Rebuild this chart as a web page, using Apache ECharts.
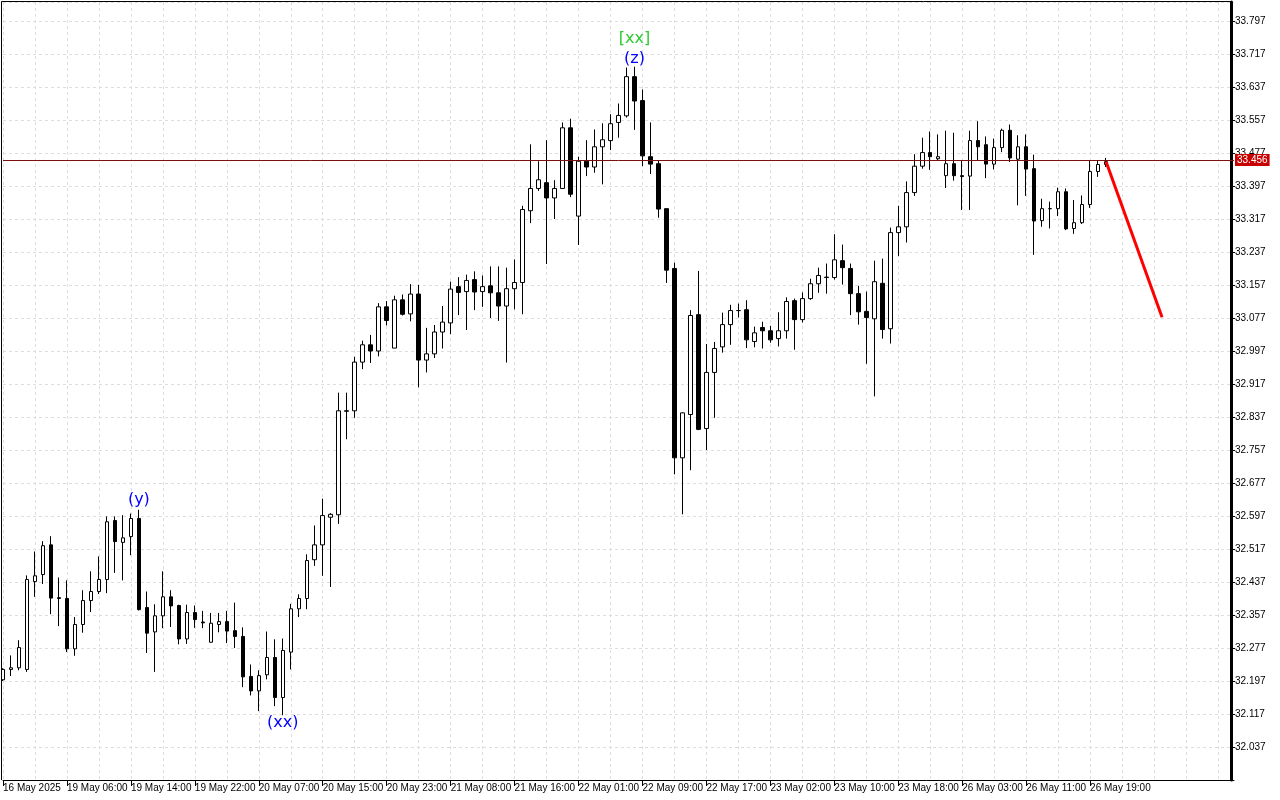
<!DOCTYPE html>
<html>
<head>
<meta charset="utf-8">
<script src="https://cdn.jsdelivr.net/npm/echarts@6/dist/echarts.min.js"></script>
<style>html,body{margin:0;padding:0;background:#fff}#c{width:1280px;height:800px}</style>
</head>
<body>
<div id="c"></div>
<script>
const tickLabels = ['16 May 2025','19 May 06:00','19 May 14:00','19 May 22:00','20 May 07:00','20 May 15:00','20 May 23:00','21 May 08:00','21 May 16:00','22 May 01:00','22 May 09:00','22 May 17:00','23 May 02:00','23 May 10:00','23 May 18:00','26 May 03:00','26 May 11:00','26 May 19:00'];
const opens = [32.200,32.225,32.229,32.225,32.438,32.455,32.527,32.399,32.397,32.275,32.334,32.392,32.414,32.443,32.586,32.533,32.547,32.591,32.375,32.316,32.355,32.401,32.380,32.299,32.363,32.340,32.291,32.334,32.341,32.319,32.305,32.208,32.173,32.212,32.254,32.157,32.267,32.372,32.397,32.491,32.527,32.594,32.600,32.852,32.852,32.970,33.012,32.997,33.104,33.004,33.121,33.087,33.135,32.975,32.990,33.043,33.065,33.153,33.141,33.170,33.141,33.155,33.138,33.106,33.148,33.163,33.337,33.391,33.405,33.368,33.391,33.538,33.324,33.457,33.443,33.492,33.507,33.551,33.567,33.662,33.604,33.468,33.451,33.342,33.197,32.738,32.843,33.085,32.809,32.945,33.007,33.061,33.095,33.097,33.020,33.054,33.046,33.027,33.046,33.119,33.073,33.124,33.160,33.176,33.175,33.216,33.197,33.136,33.093,33.075,33.161,33.051,33.284,33.298,33.381,33.445,33.478,33.463,33.422,33.451,33.422,33.421,33.507,33.497,33.450,33.490,33.532,33.462,33.492,33.439,33.313,33.342,33.342,33.383,33.294,33.308,33.352,33.432,33.449];
const closes = [32.225,32.229,32.278,32.443,32.452,32.525,32.398,32.397,32.275,32.334,32.392,32.414,32.443,32.583,32.535,32.544,32.591,32.370,32.313,32.355,32.401,32.379,32.299,32.363,32.346,32.338,32.337,32.341,32.318,32.305,32.207,32.173,32.210,32.254,32.157,32.271,32.372,32.397,32.489,32.527,32.598,32.601,32.852,32.851,32.970,33.012,32.997,33.104,33.071,33.121,33.086,33.135,32.975,32.990,33.043,33.067,33.147,33.139,33.168,33.140,33.153,33.138,33.106,33.148,33.163,33.340,33.391,33.412,33.368,33.391,33.538,33.377,33.457,33.443,33.492,33.509,33.548,33.568,33.662,33.603,33.470,33.450,33.341,33.193,32.738,32.847,33.083,32.807,32.945,33.003,33.061,33.095,33.095,33.024,33.041,33.046,33.024,33.046,33.117,33.073,33.124,33.160,33.180,33.175,33.218,33.199,33.136,33.092,33.078,33.165,33.049,33.284,33.298,33.381,33.445,33.478,33.468,33.468,33.451,33.422,33.420,33.507,33.492,33.450,33.490,33.532,33.465,33.492,33.438,33.312,33.342,33.342,33.383,33.293,33.308,33.352,33.432,33.449,33.456];
const lows = [32.197,32.209,32.223,32.219,32.401,32.432,32.359,32.330,32.267,32.258,32.314,32.364,32.408,32.410,32.459,32.441,32.502,32.368,32.265,32.219,32.325,32.328,32.286,32.287,32.326,32.325,32.290,32.315,32.289,32.277,32.182,32.162,32.124,32.201,32.136,32.114,32.225,32.352,32.371,32.476,32.452,32.425,32.578,32.783,32.835,32.953,32.968,32.984,33.059,33.004,33.083,33.069,32.909,32.945,32.980,33.003,33.038,33.084,33.048,33.096,33.104,33.077,33.070,32.969,33.098,33.086,33.307,33.385,33.208,33.317,33.391,33.370,33.254,33.421,33.429,33.401,33.484,33.514,33.563,33.533,33.445,33.426,33.320,33.162,32.698,32.601,32.708,32.805,32.757,32.835,32.993,33.012,33.078,33.004,33.006,33.003,33.017,33.008,33.027,33.000,33.066,33.121,33.138,33.136,33.170,33.158,33.084,33.061,32.966,32.887,33.027,33.015,33.227,33.260,33.373,33.439,33.436,33.458,33.392,33.410,33.339,33.339,33.458,33.416,33.437,33.479,33.455,33.350,33.373,33.230,33.298,33.294,33.324,33.290,33.281,33.305,33.344,33.419,33.443];
const highs = [32.228,32.259,32.296,32.453,32.511,32.536,32.548,32.448,32.441,32.352,32.417,32.463,32.499,32.596,32.596,32.599,32.603,32.612,32.414,32.383,32.463,32.417,32.382,32.382,32.380,32.367,32.362,32.362,32.367,32.387,32.327,32.237,32.223,32.317,32.298,32.300,32.384,32.407,32.504,32.574,32.639,32.604,32.896,32.896,32.983,33.022,33.036,33.113,33.118,33.131,33.134,33.159,33.157,33.053,33.060,33.106,33.165,33.176,33.182,33.190,33.180,33.202,33.202,33.199,33.219,33.349,33.498,33.457,33.508,33.411,33.551,33.560,33.468,33.508,33.534,33.549,33.571,33.597,33.684,33.686,33.631,33.551,33.458,33.342,33.211,32.848,33.096,33.191,33.014,33.019,33.090,33.109,33.112,33.120,33.056,33.068,33.058,33.091,33.127,33.124,33.139,33.172,33.199,33.209,33.280,33.255,33.209,33.155,33.141,33.216,33.221,33.296,33.349,33.408,33.474,33.514,33.529,33.522,33.531,33.526,33.458,33.531,33.554,33.517,33.512,33.536,33.546,33.520,33.522,33.473,33.366,33.359,33.393,33.391,33.363,33.374,33.458,33.458,33.465];
const lastPrice = 33.456;
const forecastIdx = [138, 145];
const forecastVal = [33.456, 33.079];
const noteTexts = ['(y)', '(xx)', '(z)', '[xx]'];
const noteIdx = [17, 35, 79, 79];
const noteVal = [32.636, 32.095, 33.705, 33.753];
const noteColors = ['#0000ff', '#0000ff', '#0000ff', '#2ccc2c'];

const N = 155;
const cats = [];
for (let i = 0; i < N; i++) cats.push(String(i));
const candles = opens.map((o, i) => [o, closes[i], lows[i], highs[i]]);
const notes = noteTexts.map((t, i) => ({value: [noteIdx[i], noteVal[i]], label: {formatter: t, color: noteColors[i]}}));
const forecast = forecastIdx.map((x, i) => [x, forecastVal[i]]);

const axFont = "'Liberation Sans'";
const labelAt = (i) => i % 8 === 0 && i / 8 < tickLabels.length;
const chart = echarts.init(document.getElementById('c'), null, {renderer: 'canvas'});
chart.setOption({
  animation: false,
  backgroundColor: '#ffffff',
  grid: {left: 2, right: 46, top: 2, bottom: 20, containLabel: false},
  xAxis: {
    type: 'category', data: cats, boundaryGap: false,
    axisLine: {show: true, lineStyle: {color: '#000', width: 1}},
    axisTick: {show: true, length: 6, lineStyle: {color: '#000'}, interval: labelAt},
    axisLabel: {show: true, align: 'left', margin: 3, color: '#000', fontSize: 10, fontFamily: axFont,
      showMinLabel: true, showMaxLabel: true, hideOverlap: false,
      interval: labelAt,
      formatter: (v, i) => labelAt(i) ? tickLabels[i / 8] : ''},
    splitLine: {show: true, interval: (i) => i % 4 === 0, lineStyle: {color: '#dedede', type: [3, 3], width: 1}}
  },
  yAxis: {
    type: 'value', position: 'right', offset: -3, min: 31.957, max: 33.843, interval: 0.08,
    axisLine: {show: true, lineStyle: {color: '#000', width: 3}},
    axisTick: {show: true, length: 4, lineStyle: {color: '#000'}},
    axisLabel: {show: true, margin: 4, color: '#000', fontSize: 10, fontFamily: axFont,
      showMinLabel: false, showMaxLabel: false, formatter: (v) => v.toFixed(3)},
    splitLine: {show: true, lineStyle: {color: '#dedede', type: [3, 3], width: 1}}
  },
  graphic: [{type: 'polyline', silent: true, z: 10,
    shape: {points: [[1.5, 780], [1.5, 1.5], [1231, 1.5]]},
    style: {stroke: '#000', lineWidth: 1, fill: null}}],
  series: [
    {
      type: 'candlestick', data: candles, barWidth: 4, clip: true,
      itemStyle: {color: '#ffffff', color0: '#000000', borderColor: '#000000', borderColor0: '#000000', borderWidth: 1},
      markLine: {
        silent: true, symbol: ['none', 'none'], animation: false,
        lineStyle: {color: '#7a1010', width: 1, type: 'solid'},
        label: {show: true, position: 'end', distance: 1, formatter: lastPrice.toFixed(3),
          backgroundColor: '#c80000', color: '#ffffff', fontSize: 10, fontFamily: axFont, padding: [1, 2, 1, 2]},
        data: [{yAxis: lastPrice}]
      }
    },
    {
      type: 'line', data: forecast, symbol: 'none', z: 5,
      lineStyle: {color: '#ff0000', width: 3}
    },
    {
      type: 'scatter', data: notes, symbolSize: 0, z: 6,
      itemStyle: {opacity: 1},
      label: {show: true, position: 'inside', fontSize: 16, fontFamily: 'DejaVu Sans', opacity: 1}
    }
  ]
});
</script>
</body>
</html>
